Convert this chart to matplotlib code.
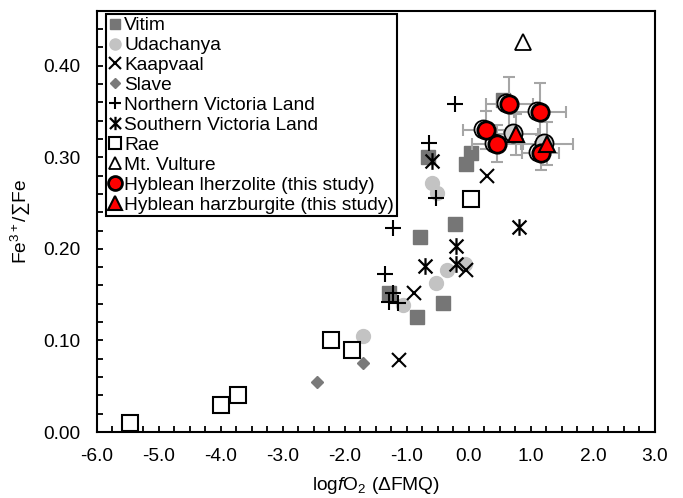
import matplotlib
matplotlib.use("Agg")
import matplotlib.pyplot as plt
import matplotlib.transforms as mtransforms
from matplotlib.path import Path
from matplotlib.ticker import MultipleLocator, FormatStrFormatter

plt.rcParams['font.family'] = ['Liberation Sans', 'DejaVu Sans']
plt.rcParams['axes.unicode_minus'] = False
plt.rcParams['mathtext.fontset'] = 'custom'
plt.rcParams['mathtext.rm'] = 'Liberation Sans'
plt.rcParams['mathtext.it'] = 'Liberation Sans:italic'

# ---- data ----
vitim_x = [-1.29, -0.79, -0.83, -0.42, -0.22, -0.66, -0.05, 0.03, 0.55]
vitim_y = [0.152, 0.213, 0.126, 0.141, 0.227, 0.300, 0.293, 0.305, 0.362]

udach_x = [-1.70, -1.07, -0.535, -0.36, -0.06, -0.60, -0.51]
udach_y = [0.105, 0.139, 0.163, 0.177, 0.183, 0.272, 0.261]

kaap_x = [-1.12, -0.88, -0.05, 0.29]
kaap_y = [0.079, 0.152, 0.177, 0.280]

slave_x = [-2.45, -1.71]
slave_y = [0.055, 0.075]

nvl_x = [-1.22, -1.36, -1.22, -1.29, -1.14, -0.535, -0.65, -0.22]
nvl_y = [0.223, 0.173, 0.152, 0.142, 0.141, 0.255, 0.316, 0.358]

svl_x = [-0.60, -0.20, -0.70, -0.20, 0.80]
svl_y = [0.296, 0.203, 0.181, 0.183, 0.224]

rae_x = [-5.46, -4.00, -3.72, -2.23, -1.88, 0.03]
rae_y = [0.010, 0.030, 0.040, 0.100, 0.090, 0.254]

vult_x = [0.88]
vult_y = [0.426]

lhz_x = [0.65, 1.15, 0.28, 0.46, 1.16]
lhz_y = [0.358, 0.349, 0.330, 0.315, 0.305]
lhz_xerr = [0.38, 0.42, 0.37, 0.41, 0.30]
lhz_yerr = [0.030, 0.032, 0.021, 0.020, 0.019]

hz_x = [0.76, 1.26]
hz_y = [0.325, 0.315]
hz_xerr = [0.35, 0.42]
hz_yerr = [0.022, 0.023]

x_ticks = [-6.0, -5.0, -4.0, -3.0, -2.0, -1.0, 0.0, 1.0, 2.0, 3.0]
y_ticks = [0.00, 0.10, 0.20, 0.30, 0.40]

# ---- figure ----
fig = plt.figure(figsize=(6.83, 4.98), dpi=100)
ax = fig.add_axes([0.1416, 0.1325, 0.8174, 0.846])

FS = 13.8

# asterisk marker (x with vertical stroke)
ast = Path([(-1, -1), (1, 1), (-1, 1), (1, -1), (0, -1.2), (0, 1.2)],
           [Path.MOVETO, Path.LINETO, Path.MOVETO, Path.LINETO, Path.MOVETO, Path.LINETO])

ax.plot(vitim_x, vitim_y, ls='none', marker='s', ms=9.5, mfc='#767676', mec='#767676', label='Vitim', zorder=3)
ax.plot(udach_x, udach_y, ls='none', marker='o', ms=10, mfc='#c3c3c3', mec='#c3c3c3', label='Udachanya', zorder=3)
ax.plot(kaap_x, kaap_y, ls='none', marker='x', ms=10, mew=1.5, color='black', label='Kaapvaal', zorder=4)
ax.plot(slave_x, slave_y, ls='none', marker='D', ms=6, mfc='#7a7a7a', mec='#7a7a7a', label='Slave', zorder=3)
ax.plot(nvl_x, nvl_y, ls='none', marker='+', ms=11, mew=1.5, color='black', label='Northern Victoria Land', zorder=4)
ax.plot(svl_x, svl_y, ls='none', marker=ast, ms=12, mew=1.6, color='black', mfc='none', label='Southern Victoria Land', zorder=4)
ax.plot(rae_x, rae_y, ls='none', marker='s', ms=11, mfc='white', mec='black', mew=1.5, label='Rae', zorder=3)
ax.plot(vult_x, vult_y, ls='none', marker='^', ms=11, mfc='white', mec='black', mew=1.3, label='Mt. Vulture', zorder=3)

# error bars
ax.errorbar(lhz_x, lhz_y, xerr=lhz_xerr, yerr=lhz_yerr, fmt='none', ecolor='#a6a6a6',
            elinewidth=1.5, capsize=4, capthick=1.5, zorder=5)
ax.errorbar(hz_x, hz_y, xerr=hz_xerr, yerr=hz_yerr, fmt='none', ecolor='#a6a6a6',
            elinewidth=1.5, capsize=4, capthick=1.5, zorder=5)

# shadow open circles (slightly offset)
off = mtransforms.offset_copy(ax.transData, fig=fig, x=-3, y=1, units='dots')
ax.plot(lhz_x, lhz_y, ls='none', marker='o', ms=13, mfc='white', mec='black', mew=1.3,
        transform=off, zorder=6)
ax.plot(hz_x, hz_y, ls='none', marker='o', ms=13, mfc='#d0d0d0', mec='black', mew=1.3,
        transform=off, zorder=6)

ax.plot(lhz_x, lhz_y, ls='none', marker='o', ms=12.5, mfc='#ff0000', mec='black', mew=2,
        label='Hyblean lherzolite (this study)', zorder=7)
ax.plot(hz_x, hz_y, ls='none', marker='^', ms=12, mfc='#ff0000', mec='black', mew=1.5,
        label='Hyblean harzburgite (this study)', zorder=7)

ax.set_xlim(-6, 3)
ax.set_ylim(0, 0.46)
ax.set_xticks(x_ticks)
ax.set_yticks(y_ticks)
ax.xaxis.set_major_formatter(FormatStrFormatter('%.1f'))
ax.yaxis.set_major_formatter(FormatStrFormatter('%.2f'))
ax.xaxis.set_minor_locator(MultipleLocator(0.25))
ax.yaxis.set_minor_locator(MultipleLocator(0.02))
ax.tick_params(which='both', direction='in', top=False, right=False, labelsize=FS,
               width=1.3, length=4)
ax.tick_params(axis='x', which='major', pad=11.5)
ax.tick_params(axis='y', which='major', pad=12)
for s in ax.spines.values():
    s.set_linewidth(1.5)

ax.set_xlabel(r'log$\it{f}$O$_2$ ($\Delta$FMQ)', fontsize=FS, labelpad=7)
ax.set_ylabel(r'Fe$^{3+}$/∑Fe', fontsize=FS, labelpad=8)

leg = ax.legend(loc='upper left', bbox_to_anchor=(0.0167, 0.992), borderaxespad=0,
                fontsize=FS, frameon=True, fancybox=False, framealpha=1, edgecolor='black',
                handlelength=0.6, handletextpad=0.2, labelspacing=0.13, borderpad=0.15,
                markerscale=0.8)
leg.get_frame().set_linewidth(1.5)

fig.savefig('out.png', dpi=100)
